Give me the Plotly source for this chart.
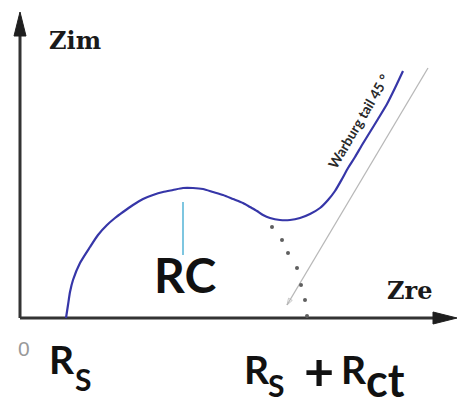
import plotly.graph_objects as go

# Nyquist impedance curve (Zre, Zim): depressed semicircle followed by a Warburg tail
zre_curve = [46, 48, 50, 53, 60, 70, 78, 87, 95, 103, 113, 123, 133, 143, 153, 163, 173,
             183, 193, 203, 213, 223, 230, 237, 243, 250, 260, 270, 280, 290, 300, 308,
             315, 322, 328, 335, 342, 350, 358, 367, 375, 383]
zim_curve = [0, 13, 26, 38, 55, 71, 83, 93, 100, 106, 113, 119, 123, 126, 128, 130, 130,
             129, 126, 123, 119, 115, 111, 107, 103, 100, 98, 98, 100, 104, 110, 118,
             127, 139, 150, 161, 173, 186, 199, 214, 230, 247]

# Extrapolated end of the semicircle down to Rs + Rct
zre_extrap = [252, 262, 268, 277, 281, 285, 287]
zim_extrap = [91, 78, 65, 50, 33, 18, 2]

# Characteristic values on the real axis
rs = 46
rs_rct = 287

# 45 degree guide line for the Warburg region (top -> bottom)
zre_guide = [408, 267]
zim_guide = [250, 13]

# RC marker at the arc apex
rc_x = 163
rc_y = [116, 63]

# Axis extents
x_end = 437
y_end = 306

# arrowhead geometry (axis units == pixels here)
head_len = 24
head_half = 6

fig = go.Figure()

# axis lines
fig.add_trace(go.Scatter(
    x=[0, 0], y=[0, y_end - head_len + 2], mode="lines",
    line=dict(color="#333333", width=3), hoverinfo="skip"))
fig.add_trace(go.Scatter(
    x=[0, x_end - head_len + 2], y=[0, 0], mode="lines",
    line=dict(color="#333333", width=3), hoverinfo="skip"))

# arrowheads as filled triangles at the axis ends
fig.add_trace(go.Scatter(
    x=[0, -head_half, head_half, 0],
    y=[y_end, y_end - head_len, y_end - head_len, y_end],
    mode="lines", fill="toself", fillcolor="#1e1e1e",
    line=dict(color="#1e1e1e", width=1), hoverinfo="skip"))
fig.add_trace(go.Scatter(
    x=[x_end, x_end - head_len, x_end - head_len, x_end],
    y=[0, head_half, -head_half, 0],
    mode="lines", fill="toself", fillcolor="#1e1e1e",
    line=dict(color="#1e1e1e", width=1), hoverinfo="skip"))

# guide line
fig.add_trace(go.Scatter(
    x=zre_guide, y=zim_guide, mode="lines+markers",
    line=dict(color="#b8b8b8", width=1.3),
    marker=dict(symbol="arrow-open", angleref="previous", size=[0, 7],
                color="#b0b0b0", line=dict(width=1, color="#b0b0b0")),
    hoverinfo="skip"))

# extrapolated dotted arc
fig.add_trace(go.Scatter(
    x=zre_extrap, y=zim_extrap, mode="markers",
    marker=dict(size=4, color="#5f5f5f"), hoverinfo="skip"))

# measured curve
fig.add_trace(go.Scatter(
    x=zre_curve, y=zim_curve, mode="lines",
    line=dict(color="#3636a8", width=2.2, shape="spline", smoothing=0.6),
    hoverinfo="skip"))

# RC marker line
fig.add_trace(go.Scatter(
    x=[rc_x, rc_x], y=rc_y, mode="lines",
    line=dict(color="#7ec6e0", width=2), hoverinfo="skip"))

serif = dict(family="DejaVu Serif", size=24, color="#1a1a1a", weight="bold")
sans = dict(family="Lato", color="#111111", weight="bold")

annotations = [
    dict(x=27, y=278, text="Zim", font=serif, xanchor="left"),
    dict(x=365, y=28, text="Zre", font=serif, xanchor="left"),
    dict(x=132, y=44, text="RC", font=dict(sans, size=48), xanchor="left"),
    dict(x=3.5, y=-30, text="0", font=dict(family="Liberation Sans", size=21, color="#999999"),
         xanchor="center"),
    # Rs label
    dict(x=rs - 19, y=-41, text="R", font=dict(sans, size=39), xanchor="left"),
    dict(x=rs + 7, y=-61, text="S", font=dict(sans, size=30), xanchor="left"),
    # Rs + Rct label
    dict(x=rs_rct - 65, y=-51, text="R", font=dict(sans, size=39), xanchor="left"),
    dict(x=rs_rct - 41, y=-67, text="S", font=dict(sans, size=30), xanchor="left"),
    dict(x=rs_rct + 12, y=-52, text="+", font=dict(sans, size=52), xanchor="center"),
    dict(x=rs_rct + 32, y=-51, text="R", font=dict(sans, size=39), xanchor="left"),
    dict(x=rs_rct + 57, y=-62, text="ct", font=dict(sans, size=45), xanchor="left"),
    dict(x=338, y=197, text="Warburg tail 45 °", textangle=-59.5,
         font=dict(family="Lato", size=14, color="#2a2a2a", weight="bold"),
         xanchor="center"),
]
for a in annotations:
    a.update(showarrow=False, xref="x", yref="y", yanchor="middle")

fig.update_layout(
    width=457, height=408,
    margin=dict(l=0, r=0, t=0, b=0),
    paper_bgcolor="white", plot_bgcolor="white",
    showlegend=False,
    xaxis=dict(range=[-20, 437], visible=False, fixedrange=True),
    yaxis=dict(range=[-90, 318], visible=False, fixedrange=True),
    annotations=annotations,
)

fig.write_html("out.html")
